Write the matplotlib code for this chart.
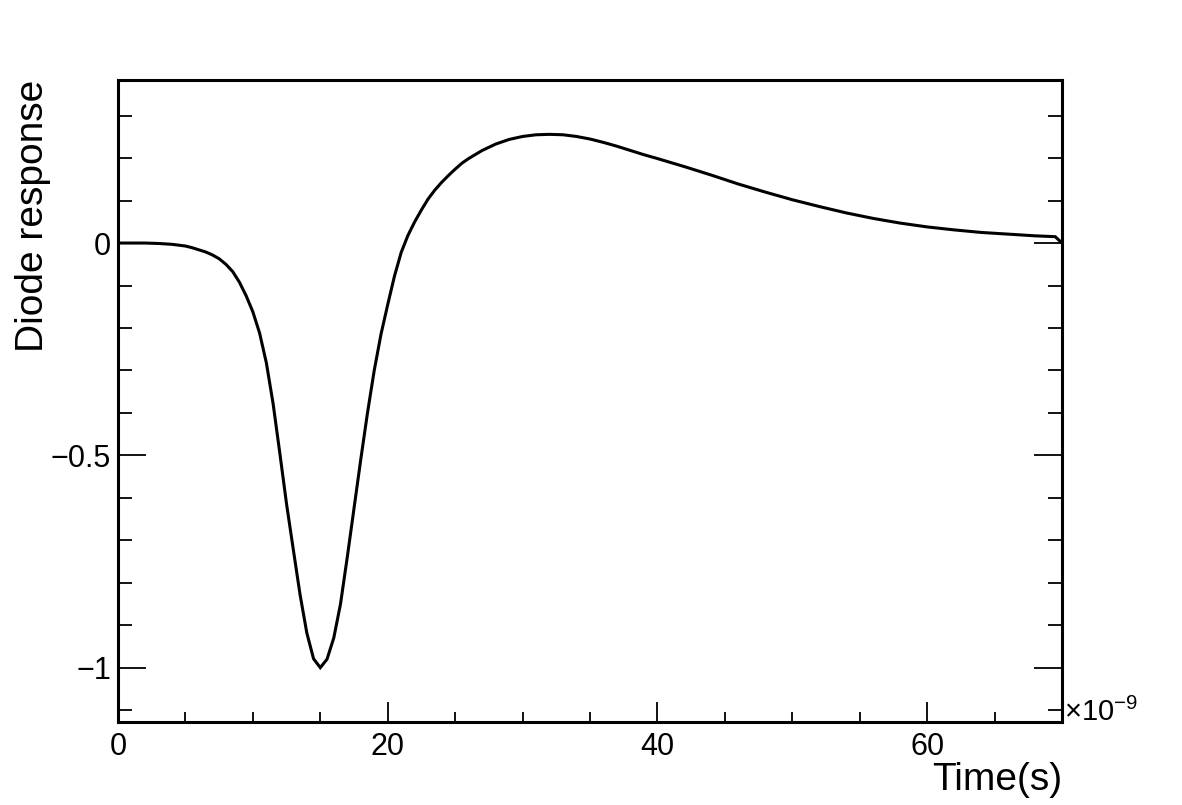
import matplotlib
matplotlib.use("Agg")
import matplotlib.pyplot as plt
from matplotlib.ticker import MultipleLocator, FixedLocator

plt.rcParams['font.family'] = ['Liberation Sans', 'DejaVu Sans']
plt.rcParams['mathtext.fontset'] = 'custom'
plt.rcParams['mathtext.rm'] = 'Liberation Sans'
plt.rcParams['mathtext.it'] = 'Liberation Sans'

# Time in units of 1e-9 s
time_ns = [0, 2, 3, 4, 5, 5.5, 6, 6.5, 7, 7.5, 8, 8.5, 9, 9.5, 10, 10.5, 11,
           11.5, 12, 12.5, 13, 13.5, 14, 14.5, 15, 15.5, 16, 16.5, 17, 17.5,
           18, 18.5, 19, 19.5, 20, 20.5, 21, 21.5, 22, 22.5, 23, 23.5, 24,
           24.5, 25, 25.5, 26, 27, 28, 29, 30, 31, 32, 33, 34, 35, 36, 37, 38,
           39, 40, 42, 44, 46, 48, 50, 52, 54, 56, 58, 60, 62, 64, 66, 68,
           69.5, 70]
response = [0.0, 0.0, -0.001, -0.003, -0.007, -0.011, -0.016, -0.021, -0.028,
            -0.037, -0.050, -0.067, -0.092, -0.124, -0.162, -0.212, -0.282,
            -0.378, -0.495, -0.615, -0.722, -0.828, -0.918, -0.979, -1.0,
            -0.98, -0.93, -0.85, -0.74, -0.625, -0.51, -0.40, -0.30, -0.215,
            -0.145, -0.078, -0.022, 0.018, 0.050, 0.078, 0.104, 0.125, 0.143,
            0.159, 0.174, 0.188, 0.199, 0.218, 0.233, 0.244, 0.251, 0.255,
            0.256, 0.255, 0.251, 0.245, 0.237, 0.228, 0.218, 0.208, 0.199,
            0.180, 0.160, 0.139, 0.120, 0.102, 0.086, 0.071, 0.058, 0.047,
            0.038, 0.031, 0.025, 0.021, 0.017, 0.015, 0.0]

x_major = [0, 20, 40, 60]
x_labels = ['0', '20', '40', '60']
y_major = [-1.0, -0.5, 0.0]
y_labels = ['\u22121', '\u22120.5', '0']

W, H = 1182, 805
fig = plt.figure(figsize=(W / 100, H / 100), dpi=100)
ax = fig.add_axes([118 / W, 1 - 722 / H, (1062 - 118) / W, (722 - 80) / H])

ax.plot(time_ns, response, color='black', lw=2.2, solid_joinstyle='miter')
ax.set_xlim(0, 70)
ax.set_ylim(-1.128, 0.384)

ax.xaxis.set_major_locator(FixedLocator(x_major))
ax.set_xticklabels(x_labels)
ax.xaxis.set_minor_locator(MultipleLocator(5))
ax.yaxis.set_major_locator(FixedLocator(y_major))
ax.set_yticklabels(y_labels)
ax.yaxis.set_minor_locator(MultipleLocator(0.1))

ax.tick_params(axis='x', which='both', direction='in', top=False, bottom=True,
               labelsize=22, pad=7, width=1.3, color='black')
ax.tick_params(axis='x', which='major', length=14.5)
ax.tick_params(axis='x', which='minor', length=7.2)
ax.tick_params(axis='y', which='both', direction='in', left=True, right=True,
               labelsize=22, pad=5, width=1.3, color='black')
ax.tick_params(axis='y', which='major', length=20)
ax.tick_params(axis='y', which='minor', length=10)

for s in ax.spines.values():
    s.set_linewidth(2.2)
    s.set_color('black')

fig.text(33 / W, 1 - 80 / H, 'Diode response', rotation=90, ha='center',
         va='top', fontsize=28)
fig.text(1062 / W, 1 - 790 / H, 'Time(s)', ha='right', va='baseline',
         fontsize=28)
fig.text(1064 / W, 1 - 721 / H, r'$\times10^{-9}$', ha='left', va='baseline',
         fontsize=21)

fig.savefig('out.png', dpi=100, facecolor='white')
